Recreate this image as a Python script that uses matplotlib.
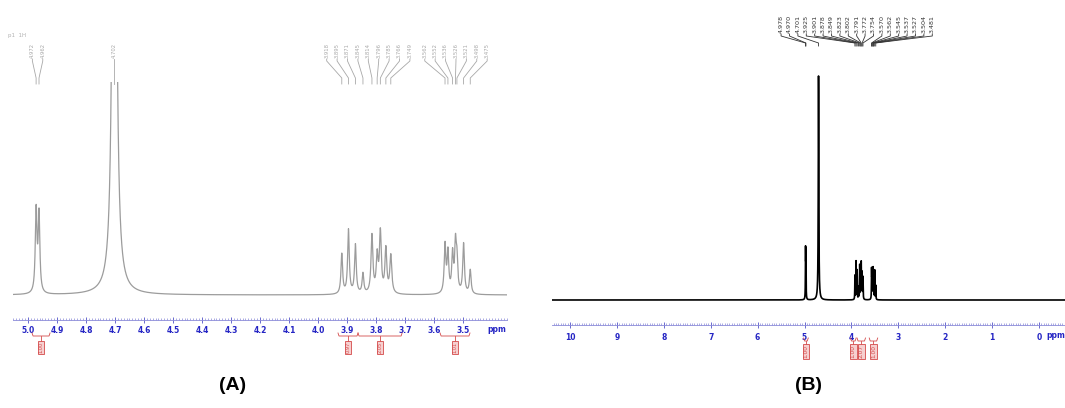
import matplotlib
matplotlib.use("Agg")
import matplotlib.pyplot as plt
import numpy as np

# ---- panel A: expanded region, peak list (ppm, intensity, half width) ----
a_peaks = [4.972, 4.962, 4.702,
           3.918, 3.895, 3.871, 3.845, 3.814, 3.796, 3.785, 3.766, 3.749,
           3.562, 3.552, 3.536, 3.526, 3.521, 3.498, 3.475]
a_heights = [82, 78, 900,
             40, 64, 49, 20, 58, 36, 60, 44, 38,
             48, 40, 38, 46, 30, 50, 24]
a_widths = [0.0034, 0.0034, 0.0062,
            0.0034, 0.0034, 0.0034, 0.0034, 0.0038, 0.0038, 0.0038, 0.0038, 0.0040,
            0.0034, 0.0034, 0.0034, 0.0034, 0.0034, 0.0034, 0.0034]
a_ticks = [5.0, 4.9, 4.8, 4.7, 4.6, 4.5, 4.4, 4.3, 4.2, 4.1, 4.0, 3.9, 3.8, 3.7, 3.6, 3.5]
a_int_ranges = [(4.986, 4.924), (3.931, 3.862), (3.862, 3.710), (3.579, 3.476)]
a_int_values = ["1.00", "0.97", "2.05", "1.01"]

# ---- panel B: full spectrum ----
b_peaks = [4.978, 4.970, 4.701,
           3.925, 3.901, 3.878, 3.849, 3.823, 3.802, 3.791, 3.772, 3.754,
           3.570, 3.562, 3.545, 3.537, 3.527, 3.504, 3.481]
b_heights = [47, 45, 224,
             24, 38, 29, 12, 34, 21, 35, 26, 22,
             28, 24, 22, 27, 18, 29, 14]
b_widths = [0.0034, 0.0034, 0.0065,
            0.0034, 0.0034, 0.0034, 0.0034, 0.0038, 0.0038, 0.0038, 0.0038, 0.0040,
            0.0034, 0.0034, 0.0034, 0.0034, 0.0034, 0.0034, 0.0034]
b_ticks = [10, 9, 8, 7, 6, 5, 4, 3, 2, 1, 0]
b_int_ranges = [(5.02, 4.92), (4.02, 3.90), (3.88, 3.70), (3.62, 3.44)]
b_int_values = ["1.00", "1.00", "2.07", "1.00"]

W, H = 1065, 408
BLUE = "#2525c4"
RED = "#d44a4a"


def spectrum(x, centers, heights, widths):
    y = np.zeros_like(x)
    for c, h, w in zip(centers, heights, widths):
        y += h * w ** 2 / ((x - c) ** 2 + w ** 2)
    return y


def px(ax, ppm):
    return ax.transData.transform((ppm, 0))[0]


def setup_axis(ax, ticks, minor_step, fmt, pad):
    for s in ("top", "left", "right"):
        ax.spines[s].set_visible(False)
    ax.spines["bottom"].set_color("#8a8ad8")
    ax.spines["bottom"].set_linewidth(0.6)
    ax.set_yticks([])
    ax.set_xticks(ticks)
    ax.set_xticklabels([fmt % t for t in ticks], fontsize=5.5,
                       fontweight="bold", color=BLUE)
    lo, hi = sorted(ax.get_xlim())
    ax.set_xticks(np.arange(np.ceil(lo / minor_step) * minor_step, hi, minor_step),
                  minor=True)
    ax.tick_params(axis="x", which="major", direction="inout", length=4,
                   width=0.7, color="#6a6ad0", pad=pad)
    ax.tick_params(axis="x", which="minor", direction="in", length=1.5,
                   width=0.5, color="#8a8ad8")
    ax.patch.set_alpha(0)


def peak_labels(ov, ax, peaks, gap, spacing, y_text, y_top, y_bot, color, size):
    # group peaks that sit close together and fan the labels out above them
    groups, cur = [], [0]
    for i in range(1, len(peaks)):
        if abs(peaks[i] - peaks[i - 1]) > gap:
            groups.append(cur)
            cur = []
        cur.append(i)
    groups.append(cur)
    for g in groups:
        pxs = [px(ax, peaks[i]) for i in g]
        centre = np.mean(pxs)
        n = len(g)
        for k, i in enumerate(g):
            lx = centre + (k - (n - 1) / 2) * spacing
            ov.text(lx, y_text, "%.3f" % peaks[i], rotation=90, ha="center",
                    va="bottom", fontsize=size, color=color)
            ov.plot([lx, lx, pxs[k], pxs[k]],
                    [y_text + 1, y_text + 3, y_top, y_bot],
                    color=color, lw=0.6)


def integrals(ov, ax, ranges, values, y_br, y_box, size):
    for (p0, p1), v in zip(ranges, values):
        x0, x1 = px(ax, p0), px(ax, p1)
        xc = (x0 + x1) / 2
        ov.plot([x0, x0 + 1, x1 - 1, x1], [y_br - 3, y_br, y_br, y_br - 3],
                color=RED, lw=0.6)
        ov.plot([xc, xc], [y_br, y_box], color=RED, lw=0.6)
        ov.text(xc, y_box, v, rotation=90, ha="center", va="top",
                fontsize=size, color=RED,
                bbox=dict(boxstyle="square,pad=0.15", fc="#f6d0d0",
                          ec=RED, lw=0.6))


fig = plt.figure(figsize=(W / 100, H / 100), dpi=100)

# panel A axes: axis line at y=320 px, baseline 25 px above it
ax_a = fig.add_axes([13 / W, (H - 320) / H, 494 / W, 238 / H])
ax_a.set_xlim(5.0517, 3.3483)
ax_a.set_ylim(-25, 213)
xa = np.linspace(5.0517, 3.3483, 12000)
ax_a.plot(xa, spectrum(xa, a_peaks, a_heights, a_widths), color="#9c9c9c", lw=0.9)
setup_axis(ax_a, a_ticks, 0.01, "%.1f", 2.5)

# panel B axes: axis line at y=325 px
ax_b = fig.add_axes([552 / W, (H - 325) / H, 513 / W, 265 / H])
ax_b.set_xlim(10.384, -0.554)
ax_b.set_ylim(-25, 240)
xb = np.linspace(10.384, -0.554, 60000)
ax_b.plot(xb, spectrum(xb, b_peaks, b_heights, b_widths), color="black", lw=1.2)
setup_axis(ax_b, b_ticks, 0.05, "%d", 3.5)

# overlay in pixel coordinates for annotations
ov = fig.add_axes([0, 0, 1, 1])
ov.set_xlim(0, W)
ov.set_ylim(H, 0)
ov.axis("off")
ov.patch.set_alpha(0)

peak_labels(ov, ax_a, a_peaks, 0.1, 10.4, 58, 78, 84, "#a8a8a8", 3.8)
peak_labels(ov, ax_b, b_peaks, 10, 8.4, 33, 43, 46, "#333333", 4.6)

integrals(ov, ax_a, a_int_ranges, a_int_values, 336, 342, 3.6)
integrals(ov, ax_b, b_int_ranges, b_int_values, 341, 345, 4.2)

ov.text(497, 329, "ppm", ha="center", va="center", fontsize=5.5,
        fontweight="bold", color=BLUE)
ov.text(1046, 336, "ppm", ha="left", va="center", fontsize=5.5,
        fontweight="bold", color=BLUE)
ov.text(8, 35, "p1  1H", ha="left", va="center", fontsize=4, color="#b0b0b0")

ov.text(233, 385, "(A)", ha="center", va="center", fontsize=14,
        fontweight="bold", family="Liberation Sans")
ov.text(808, 385, "(B)", ha="center", va="center", fontsize=14,
        fontweight="bold", family="Liberation Sans")

fig.savefig("out.png", dpi=100)
